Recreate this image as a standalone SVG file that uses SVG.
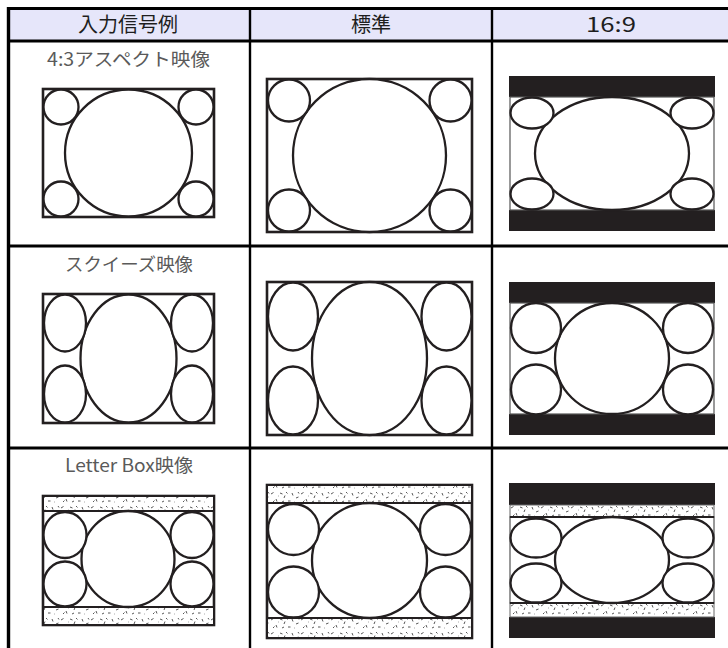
<svg xmlns="http://www.w3.org/2000/svg" width="728" height="648" viewBox="0 0 728 648">
<style>
.hd{font-family:"Noto Sans CJK JP","Noto Sans",sans-serif;font-size:20px;fill:#1e1e1e;text-anchor:middle}
.lb{font-family:"Noto Sans CJK JP","Noto Sans",sans-serif;font-size:18px;fill:#5a5a5a}
.grid{stroke:#000;fill:none}
.fr{fill:#fff;stroke:#231f20;stroke-width:2.6}
.sh{fill:#fff;stroke:#231f20;stroke-width:2.3}
.bar{fill:#231f20}
.pic{fill:#fff;stroke:#555;stroke-width:1.2}
.band{fill:url(#speck);stroke:#231f20;stroke-width:2}
.band2{fill:url(#speck);stroke:#666;stroke-width:1}
</style>
<defs>
<pattern id="speck" width="30" height="14" patternUnits="userSpaceOnUse">
<rect width="30" height="14" fill="#fff"/>
<path d="M1 4l2.5-1.5M6 9l1 2.5M10 3l2.5 1M14 8l1-2.5M18 11l2.5 0M22 3l1 2.5M26 8l2.5-1M3 12l1.5-1.5M16 2l1.5 1.5M8 6l0.5 0M24 12l0.5 0M12 12l2-1M28 2l1 1.5" stroke="#444" stroke-width="0.9" fill="none"/>
</pattern>
</defs>
<rect x="0" y="0" width="728" height="648" fill="#fff"/>
<g id="table">
<rect x="8.5" y="8.5" width="722" height="32.5" fill="#e6e6fa"/>
<line class="grid" x1="7" y1="8.5" x2="728" y2="8.5" stroke-width="3"/>
<line class="grid" x1="7" y1="41" x2="728" y2="41" stroke-width="3"/>
<line class="grid" x1="7" y1="246" x2="728" y2="246" stroke-width="2.8"/>
<line class="grid" x1="7" y1="448" x2="728" y2="448" stroke-width="2.8"/>
<line class="grid" x1="8.5" y1="7" x2="8.5" y2="648" stroke-width="3.4"/>
<line class="grid" x1="250" y1="8.5" x2="250" y2="648" stroke-width="2.4"/>
<line class="grid" x1="492" y1="8.5" x2="492" y2="648" stroke-width="2.4"/>
</g>
<g id="header">
<text class="hd" x="128" y="32">入力信号例</text>
<text class="hd" x="371" y="32">標準</text>
<text class="hd" x="611" y="32" textLength="50" lengthAdjust="spacingAndGlyphs">16:9</text>
</g>
<g id="labels">
<text class="lb" x="47" y="66" textLength="163" lengthAdjust="spacingAndGlyphs">4:3アスペクト映像</text>
<text class="lb" x="65" y="271" textLength="128" lengthAdjust="spacingAndGlyphs">スクイーズ映像</text>
<text class="lb" x="65" y="472" textLength="128" lengthAdjust="spacingAndGlyphs">Letter Box映像</text>
</g>
<g id="r1c1">
<rect class="fr" x="43" y="89" width="171" height="128"/>
<circle class="sh" cx="128.5" cy="153" r="63.5"/>
<circle class="sh" cx="61" cy="107" r="17.5"/>
<circle class="sh" cx="196" cy="107" r="17.5"/>
<circle class="sh" cx="61" cy="199" r="17.5"/>
<circle class="sh" cx="196" cy="199" r="17.5"/>
</g>
<g id="r1c2">
<rect class="fr" x="267" y="79" width="205" height="153"/>
<circle class="sh" cx="369.5" cy="155.5" r="76.5"/>
<circle class="sh" cx="289" cy="100.5" r="21"/>
<circle class="sh" cx="450.5" cy="100.5" r="21"/>
<circle class="sh" cx="289" cy="210.5" r="21"/>
<circle class="sh" cx="450.5" cy="210.5" r="21"/>
</g>
<g id="r1c3">
<rect class="bar" x="509" y="76" width="206" height="21"/>
<rect class="bar" x="509" y="210" width="206" height="21"/>
<rect class="pic" x="510" y="97" width="204" height="113"/>
<ellipse class="sh" cx="612" cy="153.5" rx="77" ry="56.5"/>
<ellipse class="sh" cx="532" cy="113" rx="21.5" ry="15.5"/>
<ellipse class="sh" cx="692" cy="113" rx="21.5" ry="15.5"/>
<ellipse class="sh" cx="532" cy="194" rx="21.5" ry="15.5"/>
<ellipse class="sh" cx="692" cy="194" rx="21.5" ry="15.5"/>
</g>
<g id="r2c1">
<rect class="fr" x="43" y="294" width="171" height="129"/>
<ellipse class="sh" cx="128.5" cy="358.5" rx="48" ry="64"/>
<ellipse class="sh" cx="65" cy="323" rx="21" ry="28.5"/>
<ellipse class="sh" cx="192" cy="323" rx="21" ry="28.5"/>
<ellipse class="sh" cx="65" cy="394" rx="21" ry="28.5"/>
<ellipse class="sh" cx="192" cy="394" rx="21" ry="28.5"/>
</g>
<g id="r2c2">
<rect class="fr" x="267" y="282" width="205" height="153"/>
<ellipse class="sh" cx="369.5" cy="358.5" rx="57.5" ry="76.5"/>
<ellipse class="sh" cx="293" cy="316.5" rx="25" ry="34"/>
<ellipse class="sh" cx="446.5" cy="316.5" rx="25" ry="34"/>
<ellipse class="sh" cx="293" cy="400.5" rx="25" ry="34"/>
<ellipse class="sh" cx="446.5" cy="400.5" rx="25" ry="34"/>
</g>
<g id="r2c3">
<rect class="bar" x="509" y="282" width="206" height="21"/>
<rect class="bar" x="509" y="414" width="206" height="21"/>
<rect class="pic" x="510" y="303" width="204" height="111"/>
<ellipse class="sh" cx="612" cy="358.5" rx="57" ry="55.5"/>
<circle class="sh" cx="536" cy="328" r="25"/>
<circle class="sh" cx="688" cy="328" r="25"/>
<circle class="sh" cx="536" cy="389.5" r="25"/>
<circle class="sh" cx="688" cy="389.5" r="25"/>
</g>
<g id="r3c1">
<rect class="fr" x="43" y="496" width="171" height="129"/>
<rect class="band" x="43" y="496" width="171" height="15"/>
<rect class="band" x="43" y="607" width="171" height="18"/>
<ellipse class="sh" cx="128" cy="559" rx="46.5" ry="48"/>
<ellipse class="sh" cx="65" cy="535" rx="21.5" ry="23"/>
<ellipse class="sh" cx="192" cy="535" rx="21.5" ry="23"/>
<ellipse class="sh" cx="65" cy="584" rx="21.5" ry="22.5"/>
<ellipse class="sh" cx="192" cy="584" rx="21.5" ry="22.5"/>
</g>
<g id="r3c2">
<rect class="fr" x="267" y="485" width="205" height="153"/>
<rect class="band" x="267" y="485" width="205" height="18"/>
<rect class="band" x="267" y="618" width="205" height="20"/>
<circle class="sh" cx="369.5" cy="560.5" r="57.5"/>
<circle class="sh" cx="293.5" cy="529.5" r="25.5"/>
<circle class="sh" cx="445.5" cy="529.5" r="25.5"/>
<circle class="sh" cx="293.5" cy="592" r="25.5"/>
<circle class="sh" cx="445.5" cy="592" r="25.5"/>
</g>
<g id="r3c3">
<rect class="bar" x="509" y="483" width="206" height="22"/>
<rect class="bar" x="509" y="617" width="206" height="21"/>
<rect class="band2" x="510" y="505" width="204" height="12"/>
<rect class="band2" x="510" y="603" width="204" height="14"/>
<rect class="pic" x="510" y="517" width="204" height="86"/>
<line x1="510" y1="517" x2="714" y2="517" stroke="#231f20" stroke-width="2"/>
<line x1="510" y1="603" x2="714" y2="603" stroke="#231f20" stroke-width="2"/>
<ellipse class="sh" cx="612" cy="560" rx="57" ry="43"/>
<ellipse class="sh" cx="536" cy="538" rx="25.5" ry="19.5"/>
<ellipse class="sh" cx="688" cy="538" rx="25.5" ry="19.5"/>
<ellipse class="sh" cx="536" cy="583" rx="25.5" ry="19.5"/>
<ellipse class="sh" cx="688" cy="583" rx="25.5" ry="19.5"/>
</g>
</svg>
